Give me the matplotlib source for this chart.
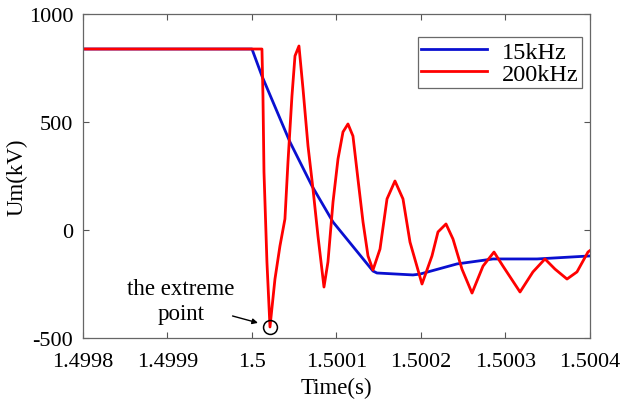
import matplotlib
matplotlib.use("Agg")
import matplotlib.pyplot as plt

plt.rcParams["font.family"] = ["Liberation Serif", "DejaVu Serif"]
plt.rcParams["axes.unicode_minus"] = False

# 15 kHz sampled voltage
t_15k = [1.4998, 1.5000, 1.5000118, 1.5000450, 1.5000710, 1.5000959, 1.5001432,
         1.5001479, 1.5001905, 1.5001988, 1.5002426, 1.5002852, 1.5003373, 1.5004]
u_15k = [838, 838, 713, 407, 204, 37, -190,
         -199, -208, -204, -157, -134, -134, -120]

# 200 kHz sampled voltage
t_200k = [1.4998, 1.5000118, 1.500013, 1.5000142, 1.5000177, 1.5000213, 1.5000272,
          1.5000331, 1.5000390, 1.5000426, 1.5000473, 1.5000509, 1.5000556, 1.5000604,
          1.5000663, 1.5000722, 1.5000781, 1.5000852, 1.5000899, 1.5000959, 1.5001018,
          1.5001077, 1.5001136, 1.5001195, 1.5001254, 1.5001314, 1.5001373, 1.5001432,
          1.5001515, 1.5001598, 1.5001692, 1.5001787, 1.5001870, 1.5002012, 1.5002130,
          1.5002201, 1.5002296, 1.5002379, 1.5002485, 1.5002604, 1.5002734, 1.5002864,
          1.5002970, 1.5003172, 1.5003325, 1.5003467, 1.5003586, 1.5003728, 1.5003846,
          1.5003976, 1.5004]
u_200k = [838, 838, 620, 269, -148, -449, -227,
          -74, 51, 315, 620, 806, 852, 653,
          389, 190, -28, -264, -148, 130, 329,
          454, 491, 435, 236, 37, -120, -185,
          -88, 144, 227, 144, -56, -250, -120,
          -9, 28, -42, -181, -292, -167, -102,
          -167, -287, -194, -134, -181, -227, -194,
          -102, -95]

# extreme point marked on the plot
t_ext = 1.5000213
u_ext = -449

x_ticks = [1.4998, 1.4999, 1.5, 1.5001, 1.5002, 1.5003, 1.5004]
x_ticklabels = ["1.4998", "1.4999", "1.5", "1.5001", "1.5002", "1.5003", "1.5004"]
y_ticks = [-500, 0, 500, 1000]

fig = plt.figure(figsize=(6.3, 4.06), dpi=100)
ax = fig.add_axes([0.1317, 0.165, 0.8048, 0.798])

ax.plot(t_15k, u_15k, color="#0a10d0", linewidth=2.0, label="15kHz")
ax.plot(t_200k, u_200k, color="#ff0000", linewidth=2.0, label="200kHz")

# circle round the extreme point
ax.plot([t_ext], [u_ext], marker="o", markersize=10, markerfacecolor="none",
        markeredgecolor="black", markeredgewidth=1.1, linestyle="none")
ax.annotate(
    "", xy=(1.5000071, -430), xytext=(1.499977, -398),
    arrowprops=dict(arrowstyle="-|>", color="black", lw=1.0,
                    mutation_scale=8, shrinkA=0, shrinkB=0),
)
ax.text(1.499916, -220, "the extreme\npoint", ha="center", va="top",
        fontsize=16.5, linespacing=1.3)

ax.set_xlim(1.4998, 1.5004)
ax.set_ylim(-500, 1000)
ax.set_xticks(x_ticks)
ax.set_xticklabels(x_ticklabels)
ax.set_yticks(y_ticks)
ax.tick_params(direction="in", top=True, right=True, labelsize=16,
               color="#555555", length=4)
ax.tick_params(axis="x", pad=10)
ax.tick_params(axis="y", pad=7)
for s in ax.spines.values():
    s.set_color("#666666")
    s.set_linewidth(0.9)

ax.set_xlabel("Time(s)", fontsize=16.5, labelpad=4)
ax.set_ylabel("Um(kV)", fontsize=16.5, labelpad=1)

leg = ax.legend(loc="upper right", bbox_to_anchor=(0.984, 0.929),
                fontsize=17.5, frameon=True, fancybox=False,
                edgecolor="#444444", handlelength=2.7, borderpad=0.15,
                labelspacing=0.0, handletextpad=0.6, borderaxespad=0.0)
leg.get_frame().set_linewidth(0.9)

fig.savefig("out.png", dpi=100)
